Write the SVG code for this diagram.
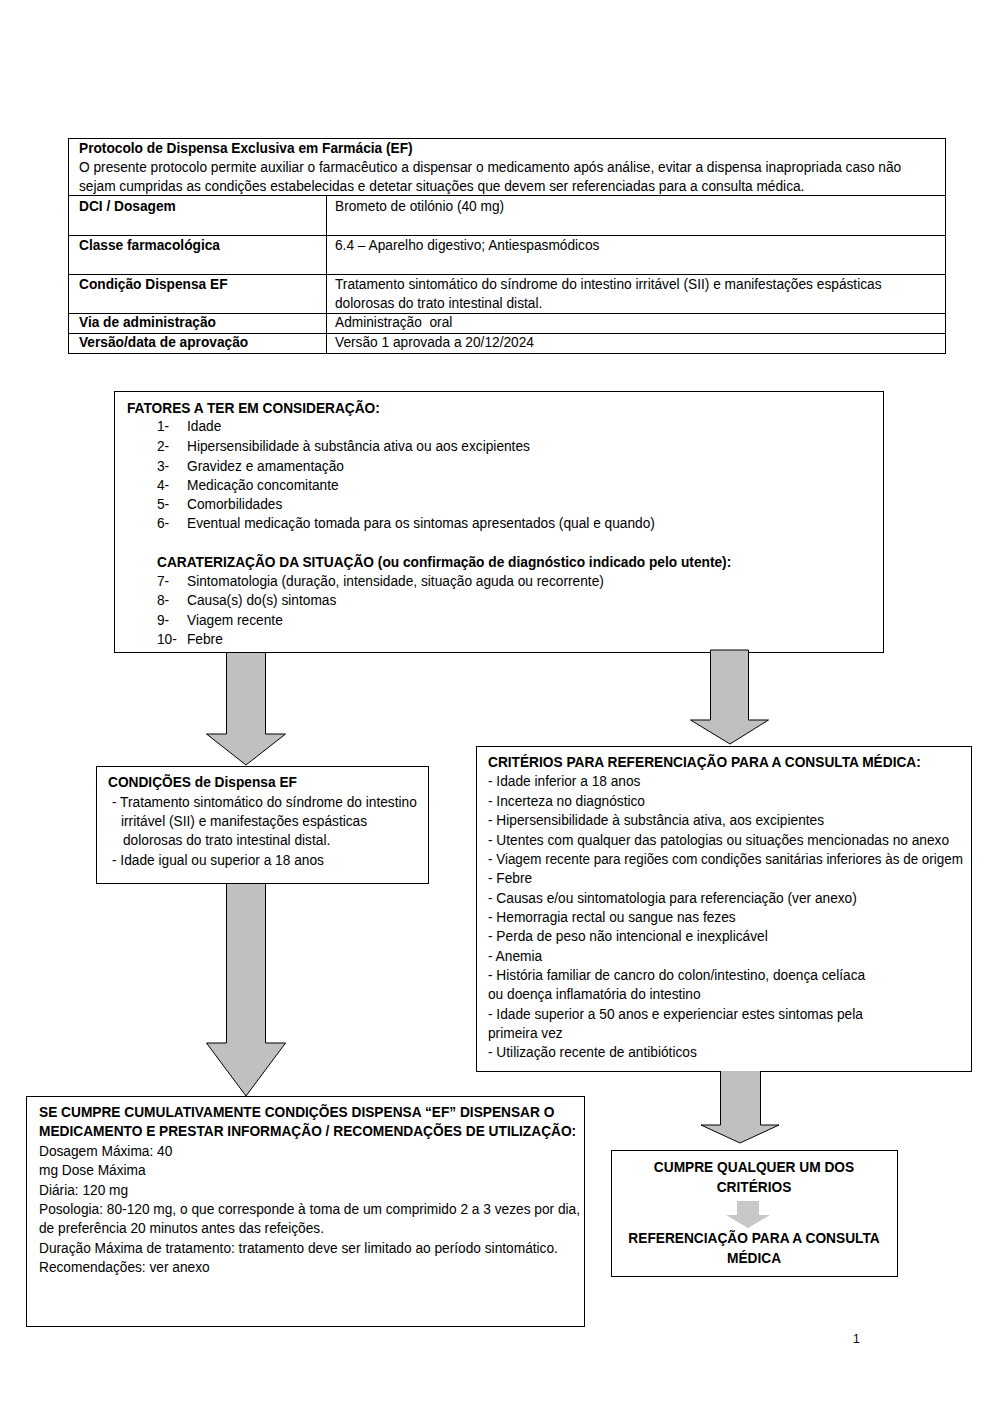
<svg xmlns="http://www.w3.org/2000/svg" width="1000" height="1413" viewBox="0 0 1000 1413">
<style>
text{font-family:"Liberation Sans Narrow","Arial Narrow","Liberation Sans",sans-serif;font-size:15px;fill:#000;transform-box:fill-box;transform-origin:0 0;transform:scaleX(0.915)}
.b{font-weight:bold}
.c{text-anchor:middle;transform-origin:50% 50%}
.box{fill:#fff;stroke:#000;stroke-width:1}
.tl{stroke:#000;stroke-width:1;fill:none}
.arr{fill:#c0c0c0;stroke:#000;stroke-width:1}
</style>
<rect width="1000" height="1413" fill="#fff"/>
<g id="table">
<rect class="tl" x="68.5" y="138.5" width="877" height="215"/>
<path class="tl" d="M68 195.5H946M68 235.5H946M68 274.5H946M68 313.5H946M68 333.5H946M326.5 195V354"/>
<text class="b" x="79" y="153">Protocolo de Dispensa Exclusiva em Farmácia (EF)</text>
<text x="79" y="172">O presente protocolo permite auxiliar o farmacêutico a dispensar o medicamento após análise, evitar a dispensa inapropriada caso não</text>
<text x="79" y="191">sejam cumpridas as condições estabelecidas e detetar situações que devem ser referenciadas para a consulta médica.</text>
<text class="b" x="79" y="211">DCI / Dosagem</text>
<text x="335" y="211">Brometo de otilónio (40 mg)</text>
<text class="b" x="79" y="250">Classe farmacológica</text>
<text x="335" y="250">6.4 – Aparelho digestivo; Antiespasmódicos</text>
<text class="b" x="79" y="289">Condição Dispensa EF</text>
<text x="335" y="289">Tratamento sintomático do síndrome do intestino irritável (SII) e manifestações espásticas</text>
<text x="335" y="308">dolorosas do trato intestinal distal.</text>
<text class="b" x="79" y="327">Via de administração</text>
<text x="335" y="327" style="white-space:pre">Administração  oral</text>
<text class="b" x="79" y="347">Versão/data de aprovação</text>
<text x="335" y="347">Versão 1 aprovada a 20/12/2024</text>
</g>
<g id="fatores">
<rect class="box" x="114.5" y="391.5" width="769" height="261"/>
<text class="b" x="127" y="413">FATORES A TER EM CONSIDERAÇÃO:</text>
<text x="157" y="431">1-</text><text x="187" y="431">Idade</text>
<text x="157" y="451">2-</text><text x="187" y="451">Hipersensibilidade à substância ativa ou aos excipientes</text>
<text x="157" y="471">3-</text><text x="187" y="471">Gravidez e amamentação</text>
<text x="157" y="490">4-</text><text x="187" y="490">Medicação concomitante</text>
<text x="157" y="509">5-</text><text x="187" y="509">Comorbilidades</text>
<text x="157" y="528">6-</text><text x="187" y="528">Eventual medicação tomada para os sintomas apresentados (qual e quando)</text>
<text class="b" x="157" y="567">CARATERIZAÇÃO DA SITUAÇÃO (ou confirmação de diagnóstico indicado pelo utente):</text>
<text x="157" y="586">7-</text><text x="187" y="586">Sintomatologia (duração, intensidade, situação aguda ou recorrente)</text>
<text x="157" y="605">8-</text><text x="187" y="605">Causa(s) do(s) sintomas</text>
<text x="157" y="625">9-</text><text x="187" y="625">Viagem recente</text>
<text x="157" y="644">10-</text><text x="187" y="644">Febre</text>
</g>
<g id="condicoes">
<rect class="box" x="96.5" y="766.5" width="332" height="117"/>
<text class="b" x="108" y="787">CONDIÇÕES de Dispensa EF</text>
<text x="112" y="807">- Tratamento sintomático do síndrome do intestino</text>
<text x="121" y="826">irritável (SII) e manifestações espásticas</text>
<text x="123" y="845">dolorosas do trato intestinal distal.</text>
<text x="112" y="865">- Idade igual ou superior a 18 anos</text>
</g>
<g id="criterios">
<rect class="box" x="476.5" y="746.5" width="495" height="325"/>
<text class="b" x="488" y="767">CRITÉRIOS PARA REFERENCIAÇÃO PARA A CONSULTA MÉDICA:</text>
<text x="488" y="786">- Idade inferior a 18 anos</text>
<text x="488" y="806">- Incerteza no diagnóstico</text>
<text x="488" y="825">- Hipersensibilidade à substância ativa, aos excipientes</text>
<text x="488" y="845">- Utentes com qualquer das patologias ou situações mencionadas no anexo</text>
<text x="488" y="864" textLength="519" lengthAdjust="spacingAndGlyphs">- Viagem recente para regiões com condições sanitárias inferiores às de origem</text>
<text x="488" y="883">- Febre</text>
<text x="488" y="903">- Causas e/ou sintomatologia para referenciação (ver anexo)</text>
<text x="488" y="922">- Hemorragia rectal ou sangue nas fezes</text>
<text x="488" y="941">- Perda de peso não intencional e inexplicável</text>
<text x="488" y="961">- Anemia</text>
<text x="488" y="980">- História familiar de cancro do colon/intestino, doença celíaca</text>
<text x="488" y="999">ou doença inflamatória do intestino</text>
<text x="488" y="1019">- Idade superior a 50 anos e experienciar estes sintomas pela</text>
<text x="488" y="1038">primeira vez</text>
<text x="488" y="1057">- Utilização recente de antibióticos</text>
</g>
<g id="dispensar">
<rect class="box" x="26.5" y="1096.5" width="558" height="230"/>
<text class="b" x="39" y="1117">SE CUMPRE CUMULATIVAMENTE CONDIÇÕES DISPENSA “EF” DISPENSAR O</text>
<text class="b" x="39" y="1136">MEDICAMENTO E PRESTAR INFORMAÇÃO / RECOMENDAÇÕES DE UTILIZAÇÃO:</text>
<text x="39" y="1156">Dosagem Máxima: 40</text>
<text x="39" y="1175">mg Dose Máxima</text>
<text x="39" y="1195">Diária: 120 mg</text>
<text x="39" y="1214">Posologia: 80-120 mg, o que corresponde à toma de um comprimido 2 a 3 vezes por dia,</text>
<text x="39" y="1233">de preferência 20 minutos antes das refeições.</text>
<text x="39" y="1253">Duração Máxima de tratamento: tratamento deve ser limitado ao período sintomático.</text>
<text x="39" y="1272">Recomendações: ver anexo</text>
</g>
<g id="referenciacao">
<rect class="box" x="611.5" y="1150.5" width="286" height="126"/>
<text class="b c" x="754" y="1172">CUMPRE QUALQUER UM DOS</text>
<text class="b c" x="754" y="1192">CRITÉRIOS</text>
<path d="M737 1201H759V1215H770L748 1228L726 1215H737Z" fill="#c8c8c8"/>
<text class="b c" x="754" y="1243">REFERENCIAÇÃO PARA A CONSULTA</text>
<text class="b c" x="754" y="1263">MÉDICA</text>
</g>
<g id="connectors">
<path class="arr" d="M226.5 653V734H206.5L246 765L285.5 734H265.5V653"/>
<path class="arr" d="M710.5 650H748.5V720H768.5L730 744L690.5 720H710.5Z"/>
<path class="arr" d="M226.5 884V1043H206.5L246 1096L285.5 1043H265.5V884"/>
<path class="arr" d="M720.5 1071V1125H701L740 1143L779 1125H760.5V1071"/>
</g>
<text x="853" y="1343" style="font-size:12px;font-family:'Liberation Sans',sans-serif;transform:none">1</text>
</svg>
